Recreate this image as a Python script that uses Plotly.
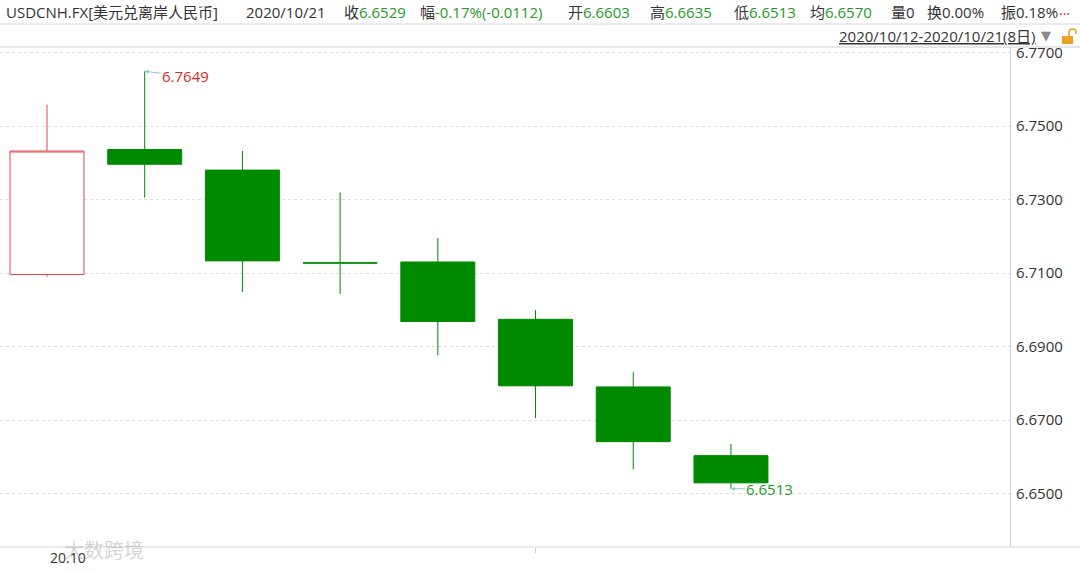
import plotly.graph_objects as go

# ---- data ----
dates = ["2020-10-12", "2020-10-13", "2020-10-14", "2020-10-15",
         "2020-10-16", "2020-10-19", "2020-10-20", "2020-10-21"]
opens = [6.7096, 6.7436, 6.7380, 6.7128, 6.7130, 6.6974, 6.6790, 6.6603]
highs = [6.7558, 6.7649, 6.7432, 6.7319, 6.7195, 6.6999, 6.6830, 6.6635]
lows = [6.7090, 6.7305, 6.7048, 6.7043, 6.6876, 6.6705, 6.6565, 6.6513]
closes = [6.7432, 6.7396, 6.7133, 6.7127, 6.6968, 6.6793, 6.6641, 6.6529]
y_ticks = [6.65, 6.67, 6.69, 6.71, 6.73, 6.75, 6.77]
x_label = "20.10"

GREEN = "#008a00"
GREEN_TXT = "#1f9a1f"
RED = "#e3474c"
DARK = "#333333"
FONT = "Open Sans, Noto Sans CJK SC, sans-serif"

W, H = 1080, 572
ML, MR, MT, MB = 0, 70, 47, 25
PW = W - ML - MR
PH = H - MT - MB


def px(x):
    return x / PW


def py(y):
    return (H - MB - y) / PH


fig = go.Figure()
fig.add_trace(go.Candlestick(
    x=dates, open=opens, high=highs, low=lows, close=closes,
    increasing=dict(line=dict(color=RED, width=1), fillcolor="white"),
    decreasing=dict(line=dict(color=GREEN, width=1), fillcolor=GREEN),
    whiskerwidth=0, hoverinfo="skip",
))

imax = highs.index(max(highs))
imin = lows.index(min(lows))
annotations = [
    dict(x=dates[imax], y=highs[imax], text=f"{highs[imax]:.4f}", showarrow=True,
         ax=41, ay=5, arrowcolor="#8cc6e0", arrowwidth=1, arrowhead=2, arrowsize=0.8,
         font=dict(color="#d42a2a", size=15, family=FONT), xanchor="center"),
    dict(x=dates[imin], y=lows[imin], text=f"{lows[imin]:.4f}", showarrow=True,
         ax=39, ay=0, arrowcolor="#8cc6e0", arrowwidth=1, arrowhead=2, arrowsize=0.8,
         font=dict(color=GREEN_TXT, size=15, family=FONT), xanchor="center"),
]


def g(t):
    return f"<span style='color:{GREEN_TXT}'>{t}</span>"


header = [
    (4, "USDCNH.FX[美元兑离岸人民币]"),
    (244, "2020/10/21"),
    (342, "收" + g("6.6529")),
    (418, "幅" + g("-0.17%(-0.0112)")),
    (566, "开" + g("6.6603")),
    (648, "高" + g("6.6635")),
    (732, "低" + g("6.6513")),
    (808, "均" + g("6.6570")),
    (889, "量0"),
    (925, "换0.00%"),
    (999, "振0.18%"),
]
for x0, t in header:
    annotations.append(dict(xref="paper", yref="paper", x=px(x0), y=py(12),
                            xanchor="left", yanchor="middle", text=t, showarrow=False,
                            font=dict(color=DARK, size=15, family=FONT)))
annotations.append(dict(xref="paper", yref="paper", x=px(1057), y=py(10),
                        xanchor="left", yanchor="middle", text="...", showarrow=False,
                        font=dict(color="#e02020", size=14, family=FONT)))
annotations.append(dict(xref="paper", yref="paper", x=px(1037), y=py(36),
                        xanchor="right", yanchor="middle",
                        text="<u>2020/10/12-2020/10/21(8日)</u>", showarrow=False,
                        font=dict(color=DARK, size=15, family=FONT)))
annotations.append(dict(xref="paper", yref="paper", x=px(1039), y=py(36),
                        xanchor="left", yanchor="middle", text="▼", showarrow=False,
                        font=dict(color="#888888", size=13, family="DejaVu Sans")))
annotations.append(dict(xref="paper", yref="paper", x=px(68), y=py(557),
                        xanchor="center", yanchor="middle", text=x_label, showarrow=False,
                        font=dict(color=DARK, size=14, family=FONT)))
annotations.append(dict(xref="paper", yref="paper", x=px(62), y=py(549),
                        xanchor="left", yanchor="middle", text="大数跨境", showarrow=False,
                        font=dict(color="rgba(170,170,170,0.5)", size=20,
                                  family="Noto Sans CJK SC")))

shapes = [
    dict(type="line", xref="paper", yref="paper", x0=0, x1=W / PW, y0=py(24), y1=py(24),
         line=dict(color="#d8d8d8", width=1)),
    dict(type="line", xref="paper", yref="paper", x0=0, x1=W / PW, y0=py(47), y1=py(47),
         line=dict(color="#d0d0d0", width=1)),
    dict(type="line", xref="paper", yref="paper", x0=0, x1=W / PW, y0=py(547), y1=py(547),
         line=dict(color="#d8d8d8", width=1)),
    # lock icon
    dict(type="rect", xref="paper", yref="paper", x0=px(1062), x1=px(1073),
         y0=py(44), y1=py(36), fillcolor="#f0a020", line=dict(width=0)),
    dict(type="path", xref="paper", yref="paper",
         path=f"M {px(1069)} {py(36)} L {px(1069)} {py(32)} Q {px(1069)} {py(29)} {px(1072.5)} {py(29)} Q {px(1076)} {py(29)} {px(1076)} {py(32)} L {px(1076)} {py(34)}",
         line=dict(color="#f0a020", width=1.6)),
]

fig.update_layout(
    width=W, height=H,
    margin=dict(l=ML, r=MR, t=MT, b=MB),
    paper_bgcolor="white", plot_bgcolor="white",
    showlegend=False,
    boxgap=0.243, boxgroupgap=0,
    annotations=annotations,
    shapes=shapes,
    font=dict(family=FONT, color=DARK),
)
fig.update_xaxes(
    type="category", range=[-0.481, 9.856],
    rangeslider=dict(visible=False),
    showgrid=False, zeroline=False, showline=False,
    tickvals=[dates[5]], ticktext=[""], ticks="outside", ticklen=5,
    tickcolor="#cccccc", showticklabels=False, fixedrange=True,
)
fig.update_yaxes(
    side="right", range=[6.63544, 6.7715],
    tickvals=y_ticks, tickformat=".4f",
    showgrid=True, gridcolor="#dddddd", griddash="dot", gridwidth=1,
    zeroline=False, showline=True, linecolor="#d0d0d0", linewidth=1,
    ticks="", ticklabelstandoff=2,
    tickfont=dict(size=15, color=DARK, family=FONT), fixedrange=True,
)

fig.write_html("out.html", config={"displayModeBar": False},
               post_script="document.body.style.margin='0';")
